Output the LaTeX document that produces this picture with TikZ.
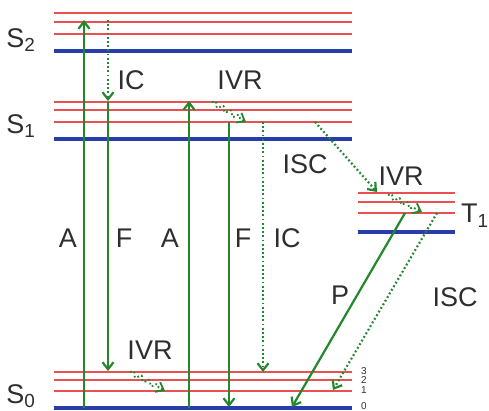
\documentclass[tikz,border=0pt]{standalone}
\usepackage{fontspec}
\setmainfont{Liberation Sans}
\usepackage{xcolor}
\usetikzlibrary{arrows.meta,decorations.pathmorphing}

\definecolor{vibred}{RGB}{235,80,80}
\definecolor{basblue}{RGB}{40,60,170}
\definecolor{trgreen}{RGB}{35,135,45}

\begin{document}
\begin{tikzpicture}[
  x=1pt, y=-1pt,
  every node/.style={font=\fontsize{27}{27}\selectfont, text=black!82, inner sep=0pt},
  vib/.style={vibred, line width=2.3pt},
  bas/.style={basblue, line width=4pt},
  rad/.style={-{Straight Barb[length=7pt,width=11pt]}, trgreen, line width=2.2pt},
  nonrad/.style={rad, dash pattern=on 1.8pt off 2.4pt},
  relax/.style={nonrad, line width=1.8pt, decorate,
                decoration={snake, amplitude=2.4pt, segment length=9pt, post length=6pt}},
  num/.style={font=\fontsize{10}{10}\selectfont}
]
\useasboundingbox (0,0) rectangle (489,411);

% levels
\foreach \y in {13,22,34} \draw[vib] (54,\y) -- (352,\y);
\draw[bas] (54,51) -- (352,51);
\foreach \y in {102,110,122} \draw[vib] (54,\y) -- (352,\y);
\draw[bas] (54,139) -- (352,139);
\foreach \y in {193,202,213} \draw[vib] (358,\y) -- (455,\y);
\draw[bas] (358,232) -- (455,232);
\foreach \y in {372,380,391} \draw[vib] (54,\y) -- (352,\y);
\draw[bas] (54,408) -- (352,408);

% state labels
\node (s2) at (21,40) {S\textsubscript{2}};
\node (s1) at (21,126) {S\textsubscript{1}};
\node (s0) at (21,396) {S\textsubscript{0}};
\node[anchor=base west] (t1) at (461,223) {T\textsubscript{1}};
\node[num] (v3) at (364,371) {3};
\node[num] (v2) at (364,380) {2};
\node[num] (v1) at (364,390) {1};
\node[num] (v0) at (364,406) {0};

% end points
\coordinate (a1s) at (84,408);  \coordinate (a1e) at (84,20);
\coordinate (ic1s) at (108,20); \coordinate (ic1e) at (108,101);
\coordinate (f1s) at (108,102); \coordinate (f1e) at (108,371);
\coordinate (a2s) at (189,408); \coordinate (a2e) at (189,101);
\coordinate (iv1s) at (212,102); \coordinate (iv1e) at (246,122);
\coordinate (f2s) at (229,122); \coordinate (f2e) at (229,407);
\coordinate (ic2s) at (263,122); \coordinate (ic2e) at (263,372);
\coordinate (is1s) at (315,122); \coordinate (is1e) at (377,192);
\coordinate (iv2s) at (388,195); \coordinate (iv2e) at (422,212);
\coordinate (ps) at (405,213);  \coordinate (pe) at (292,407);
\coordinate (is2s) at (437,213); \coordinate (is2e) at (333,390);
\coordinate (iv3s) at (130,372); \coordinate (iv3e) at (165,391);

% transitions
\draw[rad] (a1s) -- (a1e);
\draw[nonrad] (ic1s) -- (ic1e);
\draw[rad] (f1s) -- (f1e);
\draw[rad] (a2s) -- (a2e);
\draw[relax] (iv1s) -- (iv1e);
\draw[rad] (f2s) -- (f2e);
\draw[nonrad] (ic2s) -- (ic2e);
\draw[nonrad] (is1s) -- (is1e);
\draw[relax] (iv2s) -- (iv2e);
\draw[rad] (ps) -- (pe);
\draw[nonrad] (is2s) -- (is2e);
\draw[relax] (iv3s) -- (iv3e);

% transition labels
\node (la1) at (68,238) {A};
\node (lf1) at (124,238) {F};
\node (lic1) at (131,80) {IC};
\node (la2) at (170,238) {A};
\node (livr1) at (240,80) {IVR};
\node (lf2) at (243,238) {F};
\node (lic2) at (287,238) {IC};
\node (lisc1) at (305,164) {ISC};
\node (livr2) at (401,176) {IVR};
\node (lp) at (340,295) {P};
\node (lisc2) at (455,297) {ISC};
\node (livr3) at (150,350) {IVR};
\end{tikzpicture}
\end{document}
